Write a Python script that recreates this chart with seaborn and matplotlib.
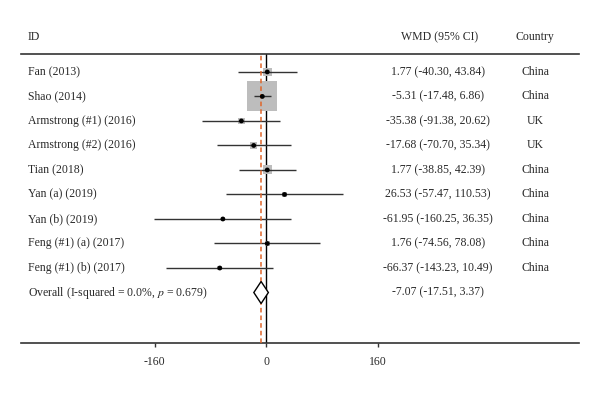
import pandas as pd
import seaborn as sns
import matplotlib.pyplot as plt
import numpy as np

# study data
studies  = ["Fan (2013)", "Shao (2014)", "Armstrong (#1) (2016)", "Armstrong (#2) (2016)",
            "Tian (2018)", "Yan (a) (2019)", "Yan (b) (2019)", "Feng (#1) (a) (2017)",
            "Feng (#1) (b) (2017)"]
wmd      = [1.77, -5.31, -35.38, -17.68, 1.77, 26.53, -61.95, 1.76, -66.37]
ci_low   = [-40.30, -17.48, -91.38, -70.70, -38.85, -57.47, -160.25, -74.56, -143.23]
ci_high  = [43.84, 6.86, 20.62, 35.34, 42.39, 110.53, 36.35, 78.08, 10.49]
country  = ["China", "China", "UK", "UK", "China", "China", "China", "China", "China"]
weight   = [6.12, 73.07, 3.46, 3.86, 6.57, 1.53, 1.12, 1.86, 1.83]

overall_label = "Overall (I-squared = 0.0%, $p$ = 0.679)"
overall_est, overall_lo, overall_hi = -7.07, -17.51, 3.37
xticks = [-160, 0, 160]

df = pd.DataFrame({"study": studies, "wmd": wmd, "lo": ci_low, "hi": ci_high,
                   "country": country, "weight": weight})
df["row"] = np.arange(len(df))

sns.set_style("white")
plt.rcParams['font.family'] = ['Liberation Serif', 'DejaVu Serif']
plt.rcParams['mathtext.fontset'] = 'stix'

fig = plt.figure(figsize=(6, 3.94), dpi=100)
ax = fig.add_axes([0.035, 0.1294, 0.93, 0.7335])

txt_col = "#2a2a2a"

# weight boxes
sns.scatterplot(data=df, x="wmd", y="row", size="weight", sizes=(0, 467),
                size_norm=(0, max(weight)), marker="s", color="#bdbdbd",
                edgecolor="none", legend=False, ax=ax, zorder=2)
# confidence intervals
ax.hlines(df["row"], df["lo"], df["hi"], color="#333333", lw=1, zorder=3)
# point estimates
sns.scatterplot(data=df, x="wmd", y="row", marker="o", s=12, color="black",
                edgecolor="none", legend=False, ax=ax, zorder=4)

# overall diamond
orow = len(df)
dh = 0.45
ax.fill([overall_lo, overall_est, overall_hi, overall_est],
        [orow, orow - dh, orow, orow + dh], facecolor="white",
        edgecolor="black", lw=1, zorder=4)

# reference lines
ax.axvline(0, color="black", lw=1, zorder=1)
ax.axvline(overall_est, color="#e0662a", lw=1.1, ls=(0, (3, 2)), zorder=3)

ax.set_xlim(-351.6, 449.1)
ax.set_ylim(11.06, -0.73)

# text columns
x_id, x_wmd, x_cty = -341.5, 247, 386
fs = 8.5
for i, r in df.iterrows():
    ax.text(x_id, r["row"], r["study"], va="center", ha="left", fontsize=fs, color=txt_col)
    ax.text(x_wmd, r["row"], f"{r['wmd']:.2f} ({r['lo']:.2f}, {r['hi']:.2f})",
            va="center", ha="center", fontsize=fs, color=txt_col)
    ax.text(x_cty, r["row"], r["country"], va="center", ha="center", fontsize=fs, color=txt_col)
ax.text(x_id, orow, overall_label, va="center", ha="left", fontsize=fs, color=txt_col)
ax.text(x_wmd, orow, f"{overall_est:.2f} ({overall_lo:.2f}, {overall_hi:.2f})",
        va="center", ha="center", fontsize=fs, color=txt_col)

head_y = -1.43
ax.text(x_id, head_y, "ID", va="center", ha="left", fontsize=fs, color=txt_col, clip_on=False)
ax.text(x_wmd + 2, head_y, "WMD (95% CI)", va="center", ha="center", fontsize=fs, color=txt_col, clip_on=False)
ax.text(x_cty, head_y, "Country", va="center", ha="center", fontsize=fs, color=txt_col, clip_on=False)

ax.set_yticks([])
ax.set_xticks(xticks)
ax.set_xticklabels([str(t) for t in xticks], fontsize=fs, color=txt_col)
ax.tick_params(axis="x", bottom=True, length=3, width=1, color="#333333", pad=6)
ax.set_xlabel("")
ax.set_ylabel("")
for side in ["left", "right"]:
    ax.spines[side].set_visible(False)
for side in ["top", "bottom"]:
    ax.spines[side].set_color("#333333")
    ax.spines[side].set_linewidth(1.2)

plt.savefig("out.png", dpi=100)
plt.close()
